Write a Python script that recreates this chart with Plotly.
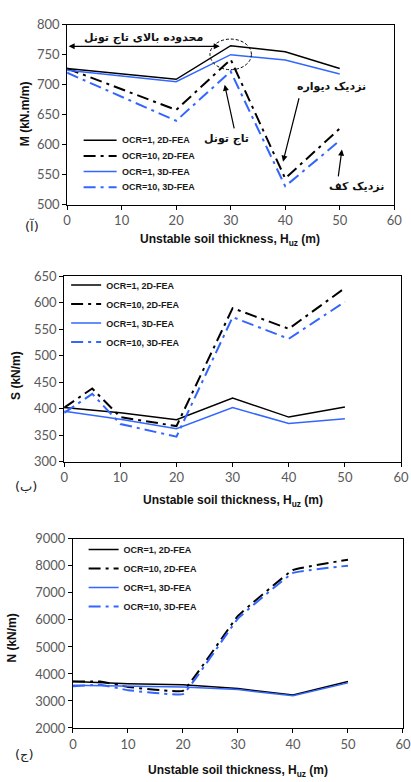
import plotly.graph_objects as go

W, H = 411, 782

# ---------------- data ----------------
x_m = [0, 20, 30, 40, 50]
m_ocr1_2d = [727, 709, 765, 755, 727]
m_ocr1_3d = [724, 705, 750, 741, 718]
m_ocr10_2d = [727, 658, 742, 544, 627]
m_ocr10_3d = [720, 640, 722, 531, 607]

x_s = [0, 10, 20, 30, 40, 50]
s_ocr1_2d = [402, 392, 379, 420, 384, 403]
s_ocr1_3d = [395, 380, 362, 402, 372, 381]
x_s10 = [0, 5, 10, 20, 30, 40, 50]
s_ocr10_2d = [402, 438, 384, 367, 590, 551, 628]
s_ocr10_3d = [392, 428, 371, 347, 573, 532, 602]

x_n = [0, 10, 20, 30, 40, 50]
n_ocr1_2d = [3720, 3640, 3600, 3460, 3220, 3720]
n_ocr1_3d = [3580, 3540, 3520, 3420, 3190, 3670]
x_n10 = [0, 5, 10, 20, 30, 40, 50]
n_ocr10_2d = [3720, 3720, 3520, 3370, 6150, 7850, 8230]
n_ocr10_3d = [3540, 3600, 3400, 3250, 6050, 7740, 8010]

series_names = ["OCR=1, 2D-FEA", "OCR=10, 2D-FEA", "OCR=1, 3D-FEA", "OCR=10, 3D-FEA"]
x_ticks = [0, 10, 20, 30, 40, 50, 60]

BLACK = "#000000"
BLUE = "#3366FF"
DASHDOT = "12px,5px,3px,5px"
TICKC = "#595959"
TICKF = "Lato"
AR = "DejaVu Sans"


def px(x):
    return x / W


def py(y):
    return 1 - y / H


fig = go.Figure()

panels = [
    ("x", "y", "legend", x_m, x_m, [m_ocr1_2d, m_ocr10_2d, m_ocr1_3d, m_ocr10_3d], False, False),
    ("x2", "y2", "legend2", x_s, x_s10, [s_ocr1_2d, s_ocr10_2d, s_ocr1_3d, s_ocr10_3d], False, True),
    ("x3", "y3", "legend3", x_n, x_n10, [n_ocr1_2d, n_ocr10_2d, n_ocr1_3d, n_ocr10_3d], True, True),
]

for xa, ya, lg, xs1, xs10, data, smooth, show in panels:
    styles = [
        (xs1, BLACK, "solid", 1.5, False),
        (xs10, BLACK, DASHDOT, 2, smooth),
        (xs1, BLUE, "solid", 1.5, False),
        (xs10, BLUE, DASHDOT, 2, smooth),
    ]
    for name, vals, (xx, col, dash, w, sm) in zip(series_names, data, styles):
        line = dict(color=col, dash=dash, width=w)
        if sm:
            line.update(shape="spline", smoothing=0.22)
        fig.add_trace(go.Scatter(
            x=xx, y=vals, mode="lines", name=name, line=line,
            xaxis=xa, yaxis=ya, legend=lg, showlegend=show,
        ))

axis_common = dict(
    showgrid=False, zeroline=False, showline=True, linecolor="#000000", linewidth=1,
    mirror=True, ticks="outside", ticklen=4, tickcolor="#000000",
    tickfont=dict(family=TICKF, size=13, color=TICKC),
)

layout = dict(
    width=W, height=H, margin=dict(l=0, r=0, t=0, b=0),
    paper_bgcolor="white", plot_bgcolor="white", showlegend=True,
    xaxis=dict(domain=[px(65), px(402)], range=[0, 60], tickvals=x_ticks, anchor="y", **axis_common),
    yaxis=dict(domain=[py(201), py(17)], range=[500, 800], dtick=50, anchor="x", **axis_common),
    xaxis2=dict(domain=[px(62), px(409)], range=[0, 60], tickvals=x_ticks, anchor="y2", **axis_common),
    yaxis2=dict(domain=[py(463), py(274)], range=[300, 650], dtick=50, anchor="x2", **axis_common),
    xaxis3=dict(domain=[px(71), 1.0], range=[0, 60], tickvals=x_ticks, anchor="y3", **axis_common),
    yaxis3=dict(domain=[py(735), py(542)], range=[2000, 9000], dtick=1000, anchor="x3", **axis_common),
)

LEGFONT = dict(family="Liberation Sans", size=9, color="#1a1a1a", weight="bold")
leg_common = dict(
    xanchor="left", yanchor="top", bgcolor="rgba(0,0,0,0)",
    font=LEGFONT, tracegroupgap=0, itemwidth=30,
)
layout["legend2"] = dict(x=px(64), y=py(268), **leg_common)
layout["legend3"] = dict(x=px(82), y=py(538), **leg_common)

fig.update_layout(**layout)

ann = []
# manual legend for panel 1 (tighter spacing than plotly legend allows)
leg1_y = [135, 151, 167, 183]
leg1_styles = [(BLACK, "solid", 1.5), (BLACK, DASHDOT, 2), (BLUE, "solid", 1.5), (BLUE, DASHDOT, 2)]
for name, ly, (col, dash, w) in zip(series_names, leg1_y, leg1_styles):
    fig.add_shape(type="line", xref="paper", yref="paper", x0=px(82), x1=px(116), y0=py(ly), y1=py(ly),
                  line=dict(color=col, dash=dash, width=w))
    ann.append(dict(x=px(120), y=py(ly), xref="paper", yref="paper", text=name, showarrow=False,
                    font=LEGFONT, xanchor="left", yanchor="middle"))

xtitle = "Unstable soil thickness, H<sub>uz</sub> (m)"
tfont = dict(family="Liberation Sans", size=12, color="#111111", weight="bold")
for cx, cy in [(233, 237), (236, 503), (241, 779)]:
    ann.append(dict(x=px(cx), y=py(cy), xref="paper", yref="paper", text=xtitle,
                    showarrow=False, font=tfont, xanchor="center", yanchor="middle"))
for text, cx, cy in [("M (kN.m/m)", 21, 108), ("S (kN/m)", 13, 375), ("N (kN/m)", 8, 643)]:
    ann.append(dict(x=px(cx), y=py(cy), xref="paper", yref="paper", text=text, textangle=-90,
                    showarrow=False, font=tfont, xanchor="center", yanchor="middle"))
for text, cx, cy in [("(آ)", 29, 223), ("(ب)", 23, 489), ("(ج)", 21, 763)]:
    ann.append(dict(x=px(cx), y=py(cy), xref="paper", yref="paper", text=text,
                    showarrow=False, font=dict(family=AR, size=13, color="#222222"),
                    xanchor="center", yanchor="middle"))

afont = dict(family=AR, size=11, color="#111111", weight="bold")
ann.append(dict(x=14.0, y=778, xref="x", yref="y", text="محدوده بالای تاج تونل",
                showarrow=False, font=afont))
ann.append(dict(x=28, y=764, ax=0, ay=764, xref="x", yref="y", axref="x", ayref="y",
                showarrow=True, arrowhead=2, arrowsize=1, arrowwidth=1.2, arrowcolor="#000000",
                startarrowhead=2, arrowside="end+start", text=""))
ann.append(dict(x=28.9, y=700, ax=30.7, ay=625, xref="x", yref="y", axref="x", ayref="y",
                showarrow=True, arrowhead=2, arrowsize=1, arrowwidth=1.2, arrowcolor="#000000", text=""))
ann.append(dict(x=29.3, y=610, xref="x", yref="y", text="تاج تونل", showarrow=False, font=afont))
ann.append(dict(x=39.6, y=572, ax=42.6, ay=680, xref="x", yref="y", axref="x", ayref="y",
                showarrow=True, arrowhead=2, arrowsize=1, arrowwidth=1.2, arrowcolor="#000000", text=""))
ann.append(dict(x=48.4, y=697, xref="x", yref="y", text="نزدیک دیواره", showarrow=False, font=afont))
ann.append(dict(x=50.4, y=592, ax=49.7, ay=545, xref="x", yref="y", axref="x", ayref="y",
                showarrow=True, arrowhead=2, arrowsize=1, arrowwidth=1.2, arrowcolor="#000000", text=""))
ann.append(dict(x=53.0, y=530, xref="x", yref="y", text="نزدیک کف", showarrow=False, font=afont))

fig.update_layout(annotations=ann)

fig.add_shape(type="circle", xref="x", yref="y", x0=26.2, x1=33.8, y0=725, y1=776,
              line=dict(color="#000000", width=1, dash="3px,2px"))

fig.write_html("out.html", config={"displayModeBar": False},
               post_script="document.body.style.margin='0';")
